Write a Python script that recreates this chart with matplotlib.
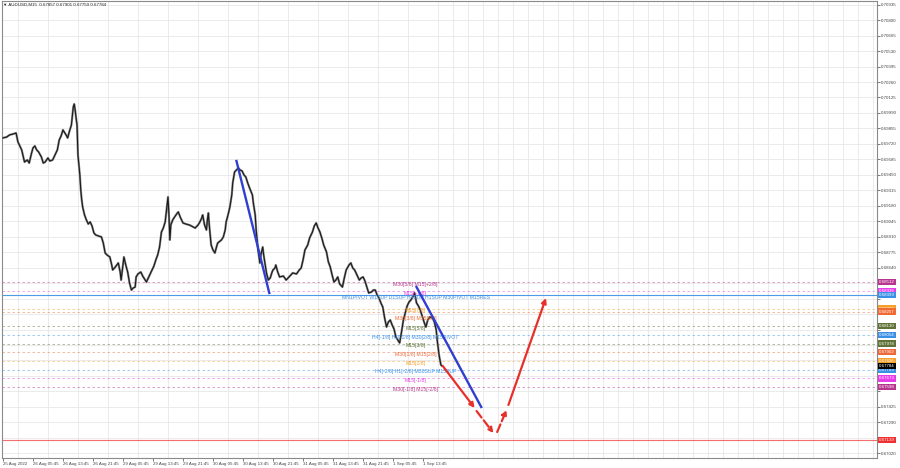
import matplotlib
matplotlib.use('Agg')
import matplotlib.pyplot as plt

plt.rcParams['font.family'] = ['Liberation Sans', 'DejaVu Sans']

# AUDUSD M15, close values (bar index -> price)
bars = [0, 4, 7, 11, 14, 16, 18, 20, 22, 23, 26, 28, 30, 32, 34, 36, 38, 41, 43, 45,
        48, 50, 53, 55, 58, 60, 62, 64, 66, 68, 69, 71, 73, 75, 76, 77, 78, 79, 80, 82,
        83, 84, 85, 87, 89, 91, 93, 95, 97, 99, 102, 105, 107, 108, 109, 111, 114, 116, 117, 119,
        123, 125, 126, 128, 129, 131, 133, 135, 137, 139, 141, 142, 144, 147, 149, 153, 155, 158, 161, 163,
        165, 167, 169, 171, 173, 175, 176, 177, 178, 179, 181, 183, 186, 187, 189, 192, 195, 199, 203, 205,
        208, 210, 212, 213, 215, 217, 218, 219, 220, 222, 224, 226, 228, 229, 233, 235, 237, 238, 240, 242,
        244, 245, 247, 249, 251, 253, 255, 257, 259, 261, 263, 266, 267, 269, 270, 272, 274, 275, 277, 278,
        281, 283, 285, 287, 288, 290, 291, 293, 295, 299, 302, 305, 309, 313, 316, 318, 320, 322, 325, 327,
        330, 332, 334, 336, 338, 340, 342, 345, 347, 349, 351, 353, 355, 357, 359, 362, 364, 366, 369, 371,
        373, 375, 378, 380, 382, 384, 386, 388, 390, 393, 395, 397, 399, 401, 403, 405, 407, 409, 411, 413,
        415, 417, 419, 421, 423, 425, 427, 429, 431, 433, 435, 437, 439, 441, 443, 445, 447, 449, 451, 453,
        455, 458, 460, 462, 463, 464, 465, 466, 467, 468]
closes = [0.69772, 0.69780, 0.69798, 0.69807, 0.69815, 0.69737, 0.69702, 0.69667, 0.69597, 0.69562,
          0.69580, 0.69553, 0.69623, 0.69684, 0.69702, 0.69667, 0.69650, 0.69606, 0.69553, 0.69562,
          0.69597, 0.69571, 0.69580, 0.69615, 0.69667, 0.69754, 0.69789, 0.69842, 0.69815, 0.69789,
          0.69772, 0.69833, 0.69885, 0.70042, 0.70068, 0.70016, 0.69946, 0.69885, 0.69623, 0.69449,
          0.69318, 0.69231, 0.69170, 0.69100, 0.69056, 0.69021, 0.69039, 0.69004, 0.68943, 0.68925,
          0.68916, 0.68908, 0.68855, 0.68812, 0.68768, 0.68751, 0.68733, 0.68663, 0.68620, 0.68637,
          0.68681, 0.68602, 0.68532, 0.68663, 0.68733, 0.68663, 0.68602, 0.68506, 0.68445, 0.68463,
          0.68471, 0.68559, 0.68585, 0.68602, 0.68567, 0.68515, 0.68550, 0.68602, 0.68655, 0.68707,
          0.68751, 0.68820, 0.68951, 0.68986, 0.69039, 0.69187, 0.69257, 0.69100, 0.68882, 0.69012,
          0.69056, 0.69082, 0.69117, 0.69126, 0.69082, 0.69030, 0.69021, 0.69012, 0.68995, 0.68986,
          0.69012, 0.69039, 0.69074, 0.69100, 0.69012, 0.68969, 0.69056, 0.69117, 0.69012, 0.68838,
          0.68794, 0.68768, 0.68829, 0.68855, 0.68882, 0.68908, 0.68969, 0.69039, 0.69100, 0.69170,
          0.69274, 0.69379, 0.69475, 0.69492, 0.69510, 0.69492, 0.69484, 0.69449, 0.69431, 0.69379,
          0.69335, 0.69274, 0.69204, 0.69100, 0.68969, 0.68794, 0.68681, 0.68751, 0.68820, 0.68751,
          0.68594, 0.68532, 0.68550, 0.68602, 0.68620, 0.68637, 0.68663, 0.68602, 0.68559, 0.68567,
          0.68532, 0.68559, 0.68594, 0.68585, 0.68620, 0.68637, 0.68707, 0.68794, 0.68838, 0.68899,
          0.68951, 0.69004, 0.69030, 0.68986, 0.68951, 0.68899, 0.68838, 0.68777, 0.68690, 0.68646,
          0.68576, 0.68515, 0.68532, 0.68559, 0.68498, 0.68471, 0.68550, 0.68620, 0.68663, 0.68681,
          0.68637, 0.68620, 0.68567, 0.68532, 0.68550, 0.68559, 0.68524, 0.68471, 0.68419, 0.68428,
          0.68445, 0.68445, 0.68402, 0.68375, 0.68332, 0.68297, 0.68201, 0.68122, 0.68166, 0.68183,
          0.68140, 0.68105, 0.68035, 0.68009, 0.67983, 0.68079, 0.68183, 0.68244, 0.68306, 0.68340,
          0.68358, 0.68384, 0.68419, 0.68332, 0.68306, 0.68271, 0.68218, 0.68166, 0.68122, 0.68183,
          0.68210, 0.68201, 0.68166, 0.68096, 0.68009, 0.67948, 0.67878, 0.67834, 0.67791, 0.67784]

time_labels = ['25 Aug 2022', '26 Aug 05:45', '26 Aug 13:45', '26 Aug 21:45', '29 Aug 05:45',
               '29 Aug 13:45', '29 Aug 21:45', '30 Aug 05:45', '30 Aug 13:45', '30 Aug 21:45',
               '31 Aug 05:45', '31 Aug 13:45', '31 Aug 21:45', '1 Sep 05:45', '1 Sep 13:45']
label_bars = [0, 32, 64, 96, 128, 160, 192, 224, 256, 288, 320, 352, 384, 416, 448]

# murrey / pivot levels
level_prices = [0.68512, 0.68436, 0.68399, 0.68283, 0.68257, 0.68130, 0.68054,
                0.67978, 0.67902, 0.67826, 0.67749, 0.67673, 0.67598, 0.67139]
level_texts = ['M30[5/8] M15[+2/8]', 'M15[+1/8]',
               'MN1PIVOT W1SUP D1SUP H4SUP H1SUP M30PIVOT M15RES',
               'M15[7/8]', 'M30[3/8] M15[6/8]', 'M15[5/8]',
               'H4[-1/8] H1[-1/8] M30[2/8] M15PIVOT', 'M15[3/8]',
               'M30[1/8] M15[2/8]', 'M15[1/8]', 'H4[-2/8] H1[-2/8] M30SUP M15SUP',
               'M15[-1/8]', 'M30[-1/8] M15[-2/8]', '']
level_colors = ['#b8358f', '#e83ce8', '#3a8fe6', '#f5a02a', '#f06a32', '#5f7238', '#3a8fe6',
                '#5f7238', '#ec6a3a', '#f5a02a', '#3a8fe6', '#e83ce8', '#b8358f', '#f03030']
level_solid = [False, False, True, False, False, False, False,
               False, False, False, False, False, False, True]
current_price = 0.67784
title_text = '\u25bc AUDUSD,M15  0.67857 0.67901 0.67759 0.67784'

# blue trend lines
trend_bars = [[249, 284], [441, 510]]
trend_prices = [[0.69571, 0.68419], [0.68471, 0.67424]]

# red forecast path
fc_bars = [[469, 503], [505, 523], [527, 537], [539, 579]]
fc_prices = [[0.67782, 0.67415], [0.67389, 0.67197], [0.67206, 0.67398], [0.67442, 0.68375]]
fc_dashed = [False, True, True, False]

fig = plt.figure(figsize=(9, 4.68), dpi=100)
ax = fig.add_axes([2 / 900, 1 - 458 / 468, 875 / 900, 457 / 468])
ax.set_xlim(-1, 932)
ax.set_ylim(0.66979, 0.70967)

# grid; price ticks hidden where a level box sits on the scale
yt = [round(0.67020 + 0.00135 * k, 5) for k in range(30)]
ax.set_yticks(yt)
marks = level_prices + [current_price]
ax.set_yticklabels(['' if min(abs(v - m) for m in marks) < 0.0005 else '%.5f' % v for v in yt])
ax.set_xticks(label_bars)
ax.set_xticklabels(time_labels, ha='left')
ax.set_xticks(list(range(0, 933, 16)), minor=True)
ax.grid(True, which='minor', axis='x', color='#e8e8e8', lw=0.6)
ax.grid(True, which='major', axis='y', color='#e8e8e8', lw=0.6)
ax.set_axisbelow(True)
ax.yaxis.tick_right()
ax.tick_params(axis='both', which='major', labelsize=3.2, length=2, width=0.5,
               pad=1, colors='#444444')
ax.tick_params(axis='x', which='minor', length=0)
for s in ax.spines.values():
    s.set_color('#8a8a8a')
    s.set_linewidth(0.8)

# levels (the 6/8 text sits a little lower so it clears the 7/8 text)
for i, (p, t, c, solid) in enumerate(zip(level_prices, level_texts, level_colors, level_solid)):
    if solid:
        ax.axhline(p, color=c, lw=0.8, alpha=0.7 if c == '#f03030' else 0.9, zorder=1)
    else:
        ax.axhline(p, color=c, lw=0.6, ls=(0, (3, 3)), alpha=0.55, zorder=1)
    if t:
        dy = -5.2 if i == 4 else -1.6
        ax.annotate(t, xy=(440, p), xytext=(0, dy), textcoords='offset points',
                    ha='center', va='center', fontsize=3.7, color=c, zorder=4)
    ax.annotate('%.5f' % p, xy=(1, p), xycoords=('axes fraction', 'data'),
                xytext=(1.6, 0), textcoords='offset points', ha='left', va='center',
                fontsize=3.2, color='white', annotation_clip=False, zorder=6,
                bbox=dict(boxstyle='square,pad=0.25', fc=c, ec='none'))
ax.annotate('%.5f' % current_price, xy=(1, current_price), xycoords=('axes fraction', 'data'),
            xytext=(1.6, 0), textcoords='offset points', ha='left', va='center',
            fontsize=3.2, color='white', annotation_clip=False, zorder=7,
            bbox=dict(boxstyle='square,pad=0.25', fc='black', ec='none'))

# price
ax.plot(bars, closes, color='#8c8c8c', lw=1.6, zorder=2)
ax.plot(bars, closes, color='#1a1a1a', lw=0.8, zorder=3)

for xb, yp in zip(trend_bars, trend_prices):
    ax.plot(xb, yp, color='#2f3fd0', lw=1.7, zorder=5)

for xb, yp, dashed in zip(fc_bars, fc_prices, fc_dashed):
    ax.annotate('', xy=(xb[1], yp[1]), xytext=(xb[0], yp[0]), zorder=5,
                arrowprops=dict(arrowstyle='-|>', color='#e8302a', lw=1.6,
                                ls='--' if dashed else '-', mutation_scale=7,
                                shrinkA=0, shrinkB=0))

fig.text(3 / 900, 1 - 5 / 468, title_text, fontsize=3.2, color='#222222', va='center', ha='left')

fig.savefig('out.png', dpi=100)
